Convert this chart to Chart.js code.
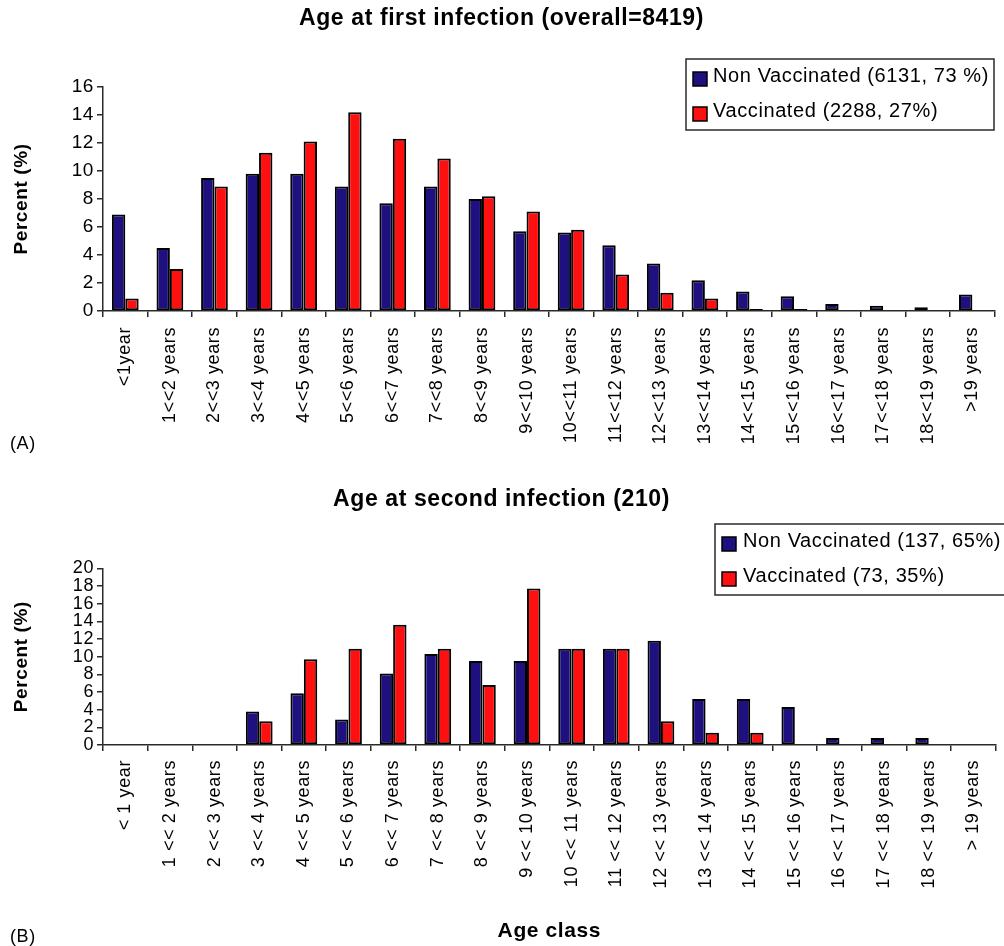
<!DOCTYPE html>
<html>
<head>
<meta charset="utf-8">
<script src="https://cdn.jsdelivr.net/npm/chart.js@4.4.1/dist/chart.umd.min.js"></script>
<style>
html,body{margin:0;padding:0;background:#fff;width:1004px;height:946px;overflow:hidden}
canvas{position:absolute;left:0}
#c1{top:0}
#c2{top:460px}
</style>
</head>
<body>
<canvas id="c1" width="1004" height="460"></canvas>
<canvas id="c2" width="1004" height="486"></canvas>
<script>
// ---- Data ----
const categoriesA = ['<1year','1<<2 years','2<<3 years','3<<4 years','4<<5 years','5<<6 years','6<<7 years','7<<8 years','8<<9 years','9<<10 years','10<<11 years','11<<12 years','12<<13 years','13<<14 years','14<<15 years','15<<16 years','16<<17 years','17<<18 years','18<<19 years','>19 years'];
const nonVaccA = [6.9,4.5,9.5,9.8,9.8,8.9,7.7,8.9,8.0,5.7,5.6,4.7,3.4,2.2,1.4,1.05,0.5,0.38,0.26,1.17];
const vaccA    = [0.9,3.0,8.9,11.3,12.1,14.2,12.3,10.9,8.2,7.1,5.8,2.6,1.3,0.9,0.15,0.15,0,0,0,0];
const seriesNamesA = ['Non Vaccinated (6131, 73 %)','Vaccinated (2288, 27%)'];
const titleA = 'Age at first infection (overall=8419)';

const categoriesB = ['< 1 year','1 << 2 years','2 << 3 years','3 << 4 years','4 << 5 years','5 << 6 years','6 << 7 years','7 << 8 years','8 << 9 years','9 << 10 years','10 << 11 years','11 << 12 years','12 << 13 years','13 << 14 years','14 << 15 years','15 << 16 years','16 << 17 years','17 << 18 years','18 << 19 years','> 19 years'];
const nonVaccB = [0,0,0,3.8,5.85,2.9,8.1,10.3,9.5,9.5,10.9,10.9,11.8,5.2,5.2,4.3,0.8,0.8,0.8,0];
const vaccB    = [0,0,0,2.7,9.7,10.9,13.6,10.9,6.8,17.7,10.9,10.9,2.7,1.4,1.4,0,0,0,0,0];
const seriesNamesB = ['Non Vaccinated (137, 65%)','Vaccinated (73, 35%)'];
const titleB = 'Age at second infection (210)';

const yTitle = 'Percent (%)';
const xTitleB = 'Age class';
const panelA = '(A)', panelB = '(B)';

// ---- Styles ----
const FONT = '"Liberation Sans", Arial, Helvetica, sans-serif';
const NAVY = '#1f1080';
const RED = '#ff1010';
const AXIS = '#2a2a2a';

const legendBox = {
  id: 'legendBox',
  beforeDraw(chart, args, o) { chart.ctx.letterSpacing = o.spacing; },
  afterDraw(chart, args, o) {
    const ctx = chart.ctx;
    ctx.save();
    ctx.letterSpacing = o.spacing;
    ctx.lineWidth = 1.5;
    ctx.strokeStyle = AXIS;
    ctx.strokeRect(o.x, o.y, o.w, o.h);
    ctx.font = '20px ' + FONT;
    ctx.textBaseline = 'middle';
    ctx.textAlign = 'left';
    chart.data.datasets.forEach((ds, i) => {
      const sy = o.boxY[i];
      ctx.fillStyle = ds.backgroundColor;
      ctx.fillRect(o.boxX, sy, 14, 14);
      ctx.lineWidth = 1.5;
      ctx.strokeStyle = '#000';
      ctx.strokeRect(o.boxX, sy, 14, 14);
      ctx.fillStyle = '#000';
      ctx.fillText(ds.label, o.textX, o.textY[i]);
    });
    ctx.font = '18px ' + FONT;
    ctx.fillText(o.panel, o.panelX, o.panelY);
    ctx.restore();
  }
};

function makeChart(id, labels, nv, v, names, cfg) {
  return new Chart(document.getElementById(id), {
    type: 'bar',
    data: {
      labels: labels,
      datasets: [
        {label: names[0], data: nv, backgroundColor: NAVY, borderColor: '#000', borderWidth: 2, borderSkipped: false},
        {label: names[1], data: v, backgroundColor: RED, borderColor: '#000', borderWidth: 2, borderSkipped: false}
      ]
    },
    plugins: [legendBox],
    options: {
      responsive: false,
      animation: false,
      events: [],
      layout: {padding: {left: 0, right: 1, top: 0, bottom: 0}},
      datasets: {bar: {categoryPercentage: 0.6, barPercentage: 1.0}},
      plugins: {
        legend: {display: false},
        tooltip: {enabled: false},
        title: {
          display: true, text: cfg.title, color: '#000',
          font: {family: FONT, size: 23, weight: 'bold'},
          padding: {top: cfg.titleTop, bottom: cfg.titleBottom}
        },
        legendBox: cfg.legend
      },
      scales: {
        x: {
          type: 'category',
          offset: true,
          grid: {offset: true, display: true, drawOnChartArea: false, drawTicks: true, tickLength: 6, color: AXIS, lineWidth: 1.5},
          border: {display: true, color: AXIS, width: 1.5},
          ticks: {autoSkip: false, minRotation: 90, maxRotation: 90, padding: cfg.xPad, color: '#000', font: {family: FONT, size: 18}},
          title: cfg.xTitle ? {display: true, text: cfg.xTitle, color: '#000', font: {family: FONT, size: 21, weight: 'bold'}, padding: {top: 0, bottom: 2}} : {display: false},
          afterFit(s) { s.height = cfg.xHeight; }
        },
        y: {
          min: 0, max: cfg.ymax,
          ticks: {stepSize: 2, autoSkip: false, color: '#000', font: {family: FONT, size: cfg.yFont}, padding: 3},
          grid: {display: true, drawOnChartArea: false, drawTicks: true, tickLength: 6, color: AXIS, lineWidth: 1.5},
          border: {display: true, color: AXIS, width: 1.5},
          title: {display: true, text: yTitle, color: '#000', font: {family: FONT, size: 19, weight: 'bold'}, padding: {top: 10.6, bottom: 0}},
          afterFit(s) { s.width = 103; }
        }
      }
    }
  });
}

makeChart('c1', categoriesA, nonVaccA, vaccA, seriesNamesA, {
  title: titleA, titleTop: 4.5, titleBottom: 54.9, ymax: 16, yFont: 19, xPad: 10, xHeight: 149, xTitle: null,
  legend: {spacing: '0.6px', x: 686, y: 59, w: 308, h: 71, boxX: 693, boxY: [72, 107], textX: 713, textY: [76.5, 111.5],
           panel: panelA, panelX: 10, panelY: 444}
});

makeChart('c2', categoriesB, nonVaccB, vaccB, seriesNamesB, {
  title: titleB, titleTop: 25.7, titleBottom: 55, ymax: 20, yFont: 18, xPad: 9, xHeight: 201, xTitle: xTitleB,
  legend: {spacing: '0.6px', x: 715, y: 64, w: 300, h: 71, boxX: 722, boxY: [77, 112], textX: 743, textY: [81, 116],
           panel: panelB, panelX: 10, panelY: 477}
});
</script>
</body>
</html>
